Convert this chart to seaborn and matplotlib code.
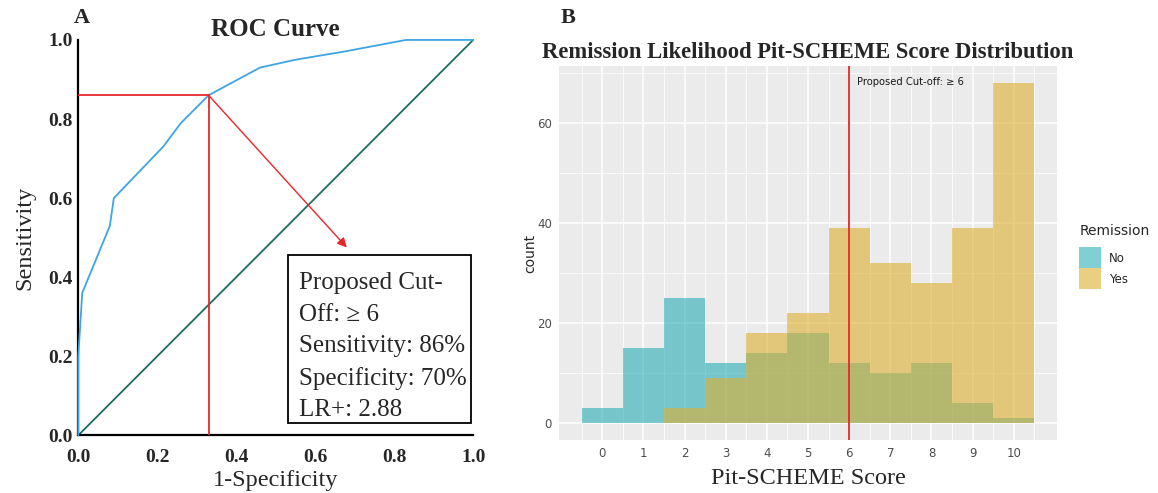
import numpy as np
import pandas as pd
import matplotlib
matplotlib.use("Agg")
import matplotlib.pyplot as plt
import matplotlib.patches as mpatches
import seaborn as sns

# ROC data (panel A)
roc_fpr = [0.0, 0.0, 0.01, 0.08, 0.09, 0.215, 0.26, 0.33, 0.46, 0.55, 0.67, 0.83, 1.0]
roc_tpr = [0.0, 0.20, 0.36, 0.53, 0.60, 0.73, 0.79, 0.86, 0.93, 0.95, 0.97, 1.0, 1.0]
cut_fpr = 0.33
cut_tpr = 0.86
roc_ticks = [0.0, 0.2, 0.4, 0.6, 0.8, 1.0]
box_text = "Proposed Cut-\nOff: \u2265 6\nSensitivity: 86%\nSpecificity: 70%\nLR+: 2.88"

# Histogram data (panel B)
scores = list(range(11))
count_no = [3, 15, 25, 12, 14, 18, 12, 10, 12, 4, 1]
count_yes = [0, 0, 3, 9, 18, 22, 39, 32, 28, 39, 68]
remission_levels = ["No", "Yes"]
cutoff = 6

sns.set_theme(style="white")
plt.rcParams["font.family"] = ["DejaVu Sans"]
serif = ["Liberation Serif", "DejaVu Serif"]

fig = plt.figure(figsize=(11.58, 4.93), dpi=100)

# ---------------- Panel A ----------------
axA = fig.add_axes([0.0676, 0.117, 0.341, 0.802])
roc_df = pd.DataFrame({"fpr": roc_fpr, "tpr": roc_tpr})
sns.lineplot(data=roc_df, x="fpr", y="tpr", ax=axA, color="#3DA5E6", lw=1.3,
             sort=False, estimator=None, clip_on=False, zorder=3)
diag_df = pd.DataFrame({"x": [0, 1], "y": [0, 1]})
sns.lineplot(data=diag_df, x="x", y="y", ax=axA, color="#1E6B5F", lw=1.3,
             clip_on=False, zorder=2)
axA.plot([0, cut_fpr], [cut_tpr, cut_tpr], color="#E8262A", lw=1.3, zorder=4)
axA.plot([cut_fpr, cut_fpr], [0, cut_tpr], color="#E8262A", lw=1.3, zorder=4)
axA.annotate("", xy=(0.68, 0.475), xytext=(cut_fpr, cut_tpr),
             arrowprops=dict(arrowstyle="-|>", color="#E8262A", lw=1.0,
                             mutation_scale=14, shrinkA=0, shrinkB=0))
axA.set_xlim(0, 1)
axA.set_ylim(0, 1)
axA.set_xticks(roc_ticks)
axA.set_yticks(roc_ticks)
axA.set_xticklabels([f"{t:.1f}" for t in roc_ticks], fontfamily=serif,
                    fontweight="bold", fontsize=14)
axA.set_yticklabels([f"{t:.1f}" for t in roc_ticks], fontfamily=serif,
                    fontweight="bold", fontsize=14)
axA.tick_params(axis="y", length=0, pad=4)
axA.tick_params(axis="x", length=0, pad=10)
for s in ["top", "right"]:
    axA.spines[s].set_visible(False)
for s in ["left", "bottom"]:
    axA.spines[s].set_color("black")
    axA.spines[s].set_linewidth(1.6)
axA.set_xlabel("1-Specificity", fontfamily=serif, fontsize=17.5, labelpad=3)
axA.set_ylabel("Sensitivity", fontfamily=serif, fontsize=17.5, labelpad=9)
axA.set_title("ROC Curve", fontfamily=serif, fontweight="bold", fontsize=18, pad=3)
axA.text(0.56, 0.412, box_text, fontfamily=serif, fontsize=18, va="top",
         ha="left", linespacing=1.55, transform=axA.transData, zorder=6)
axA.add_patch(mpatches.Rectangle((0.53, 0.03), 0.465, 0.425, fill=False,
                                 edgecolor="black", lw=1.3, zorder=5,
                                 transform=axA.transData))
fig.text(0.071, 0.963, "A", fontfamily=serif, fontweight="bold", fontsize=16,
         ha="center", va="center")

# ---------------- Panel B ----------------
axB = fig.add_axes([0.4827, 0.1075, 0.4301, 0.7585])
axB.set_facecolor("#EBEBEB")
hist_df = pd.DataFrame({
    "score": scores * 2,
    "count": count_no + count_yes,
    "Remission": ["No"] * len(scores) + ["Yes"] * len(scores),
})
palette = {"No": "#00A0AC", "Yes": "#DDB030"}
alphas = {"No": 0.5, "Yes": 0.6}
for lvl in remission_levels:
    sub = hist_df[hist_df["Remission"] == lvl]
    sns.histplot(data=sub, x="score", weights="count", discrete=True,
                 color=palette[lvl], alpha=alphas[lvl], linewidth=0,
                 edgecolor=None, ax=axB, zorder=2)
axB.set_xlim(-1.05, 11.05)
axB.set_ylim(-3.4, 71.4)
axB.set_xticks(scores)
axB.set_xticks([s - 0.5 for s in scores] + [10.5], minor=True)
axB.set_yticks([0, 20, 40, 60])
axB.set_yticks([10, 30, 50, 70], minor=True)
axB.grid(which="major", color="white", lw=1.1, zorder=0)
axB.grid(which="minor", color="white", lw=0.55, zorder=0)
axB.set_axisbelow(True)
for s in axB.spines.values():
    s.set_visible(False)
axB.tick_params(axis="both", which="major", length=3, width=1, color="#333333",
                labelsize=8.5, labelcolor="#4D4D4D", pad=2)
axB.tick_params(axis="both", which="minor", length=0)
axB.axvline(cutoff, color="#E8262A", lw=1.3, zorder=4)
axB.text(cutoff + 0.19, 68.3, "Proposed Cut-off: \u2265 6", fontsize=7.2,
         color="#1A1A1A", ha="left", va="center", zorder=5)
axB.set_xlabel("Pit-SCHEME Score", fontfamily=serif, fontsize=17.5, labelpad=6)
axB.set_ylabel("count", fontsize=10, labelpad=0)
axB.set_title("Remission Likelihood Pit-SCHEME Score Distribution",
              fontfamily=serif, fontweight="bold", fontsize=16.3, pad=6)
fig.text(0.4905, 0.964, "B", fontfamily=serif, fontweight="bold", fontsize=16,
         ha="center", va="center")

handles = [mpatches.Patch(facecolor=palette[l], alpha=alphas[l], edgecolor="none")
           for l in remission_levels]
leg = fig.legend(handles, remission_levels, title="Remission",
                 loc="upper left", bbox_to_anchor=(0.925, 0.563),
                 frameon=False, fontsize=8.5, title_fontsize=10,
                 handlelength=1.8, handleheight=2.36, handletextpad=0.7,
                 labelspacing=0.0, alignment="left", borderpad=0.2)
leg._legend_box.sep = 7

fig.savefig("out.png", dpi=100)
